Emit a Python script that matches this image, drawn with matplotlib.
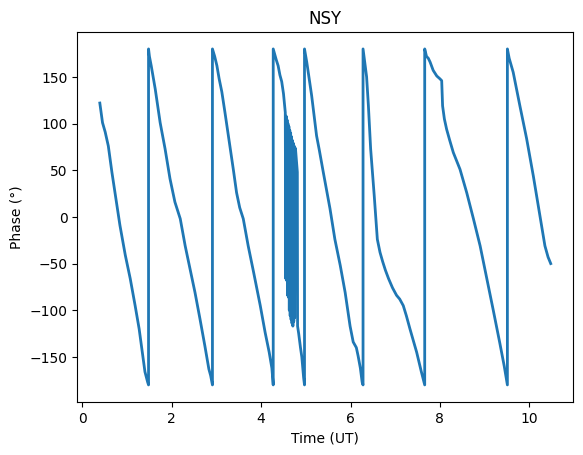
import numpy as np
import matplotlib.pyplot as plt

# Fase, por tramos entre saltos de +/-180
seg1_t = [0.39, 0.45, 0.51, 0.58, 0.66, 0.73, 0.84, 0.96, 1.07, 1.18, 1.27,
          1.34, 1.40, 1.46, 1.48]
seg1_ph = [122, 101, 91, 76, 48, 26, -9, -41, -66, -95, -120,
           -145, -166, -177, -180]

seg2_t = [1.48, 1.50, 1.54, 1.63, 1.74, 1.85, 1.96, 2.07, 2.19, 2.30, 2.41,
          2.52, 2.63, 2.74, 2.83, 2.87, 2.91]
seg2_ph = [180, 172, 162, 137, 101, 73, 41, 16, -2, -31, -56,
           -81, -109, -138, -163, -170, -180]

seg3_t = [2.91, 2.96, 3.01, 3.06, 3.12, 3.19, 3.30, 3.38, 3.45, 3.52, 3.60, 3.71,
          3.83, 3.98, 4.09, 4.18, 4.24, 4.27]
seg3_ph = [180, 172, 162, 148, 134, 112, 76, 50, 26, 10, -2, -31,
           -59, -95, -124, -145, -162, -180]

# Tramo con oscilaciones rapidas (t ~ 4.5 - 4.8)
seg4_t = [4.27, 4.34, 4.38, 4.42, 4.46, 4.50, 4.54,
          4.55, 4.56, 4.57, 4.58, 4.59, 4.60, 4.61, 4.62, 4.63, 4.64, 4.65, 4.66,
          4.67, 4.68, 4.69, 4.70, 4.71, 4.72, 4.73, 4.74, 4.75, 4.76, 4.77,
          4.81, 4.815, 4.84, 4.88, 4.91, 4.95, 4.97]
seg4_ph = [180, 168, 162, 152, 145, 132, 112,
           -66, 108, -68, 104, -84, 100, -86, 97, -100, 93, -106, 90,
           -110, 86, -114, 82, -117, 79, -112, 76, -108, 74, 72,
           48, -117, -125, -140, -150, -172, -180]

seg5_t = [4.97, 5.00, 5.02, 5.13, 5.24, 5.30, 5.39, 5.54, 5.65, 5.77, 5.88, 5.99,
          6.06, 6.13, 6.17, 6.22, 6.26, 6.28]
seg5_ph = [180, 172, 166, 130, 87, 72, 48, 9, -24, -52, -81, -117,
           -134, -140, -149, -162, -177, -180]

seg6_t = [6.28, 6.32, 6.36, 6.40, 6.45, 6.53, 6.60, 6.66, 6.72, 6.78, 6.85, 6.94,
          7.03, 7.10, 7.18, 7.25, 7.33, 7.48, 7.58, 7.66]
seg6_ph = [180, 165, 150, 119, 73, 23, -24, -38, -48, -57, -66, -76,
           -84, -88, -95, -106, -120, -145, -165, -180]

seg7_t = [7.66, 7.70, 7.74, 7.78, 7.85, 7.93, 8.00, 8.04, 8.06, 8.10, 8.15, 8.22,
          8.30, 8.45, 8.60, 8.75, 8.90, 9.05, 9.19, 9.34, 9.44, 9.51]
seg7_ph = [180, 172, 170, 166, 157, 151, 148, 146, 119, 105, 94, 82,
           69, 51, 26, -2, -31, -66, -99, -135, -160, -180]

seg8_t = [9.51, 9.55, 9.64, 9.79, 9.94, 10.09, 10.24, 10.35, 10.42, 10.48]
seg8_ph = [180, 170, 155, 119, 84, 44, 1, -31, -43, -50]

tiempo = np.concatenate([seg1_t, seg2_t, seg3_t, seg4_t, seg5_t, seg6_t, seg7_t, seg8_t])
fase = np.concatenate([seg1_ph, seg2_ph, seg3_ph, seg4_ph, seg5_ph, seg6_ph, seg7_ph, seg8_ph])

plt.figure(figsize=(6.4, 4.8), dpi=100)
plt.plot(tiempo, fase, linewidth=2)
plt.xlabel("Time (UT)")
plt.ylabel("Phase (°)")
plt.title("NSY")
plt.savefig("out.png", bbox_inches="tight")
plt.close()
